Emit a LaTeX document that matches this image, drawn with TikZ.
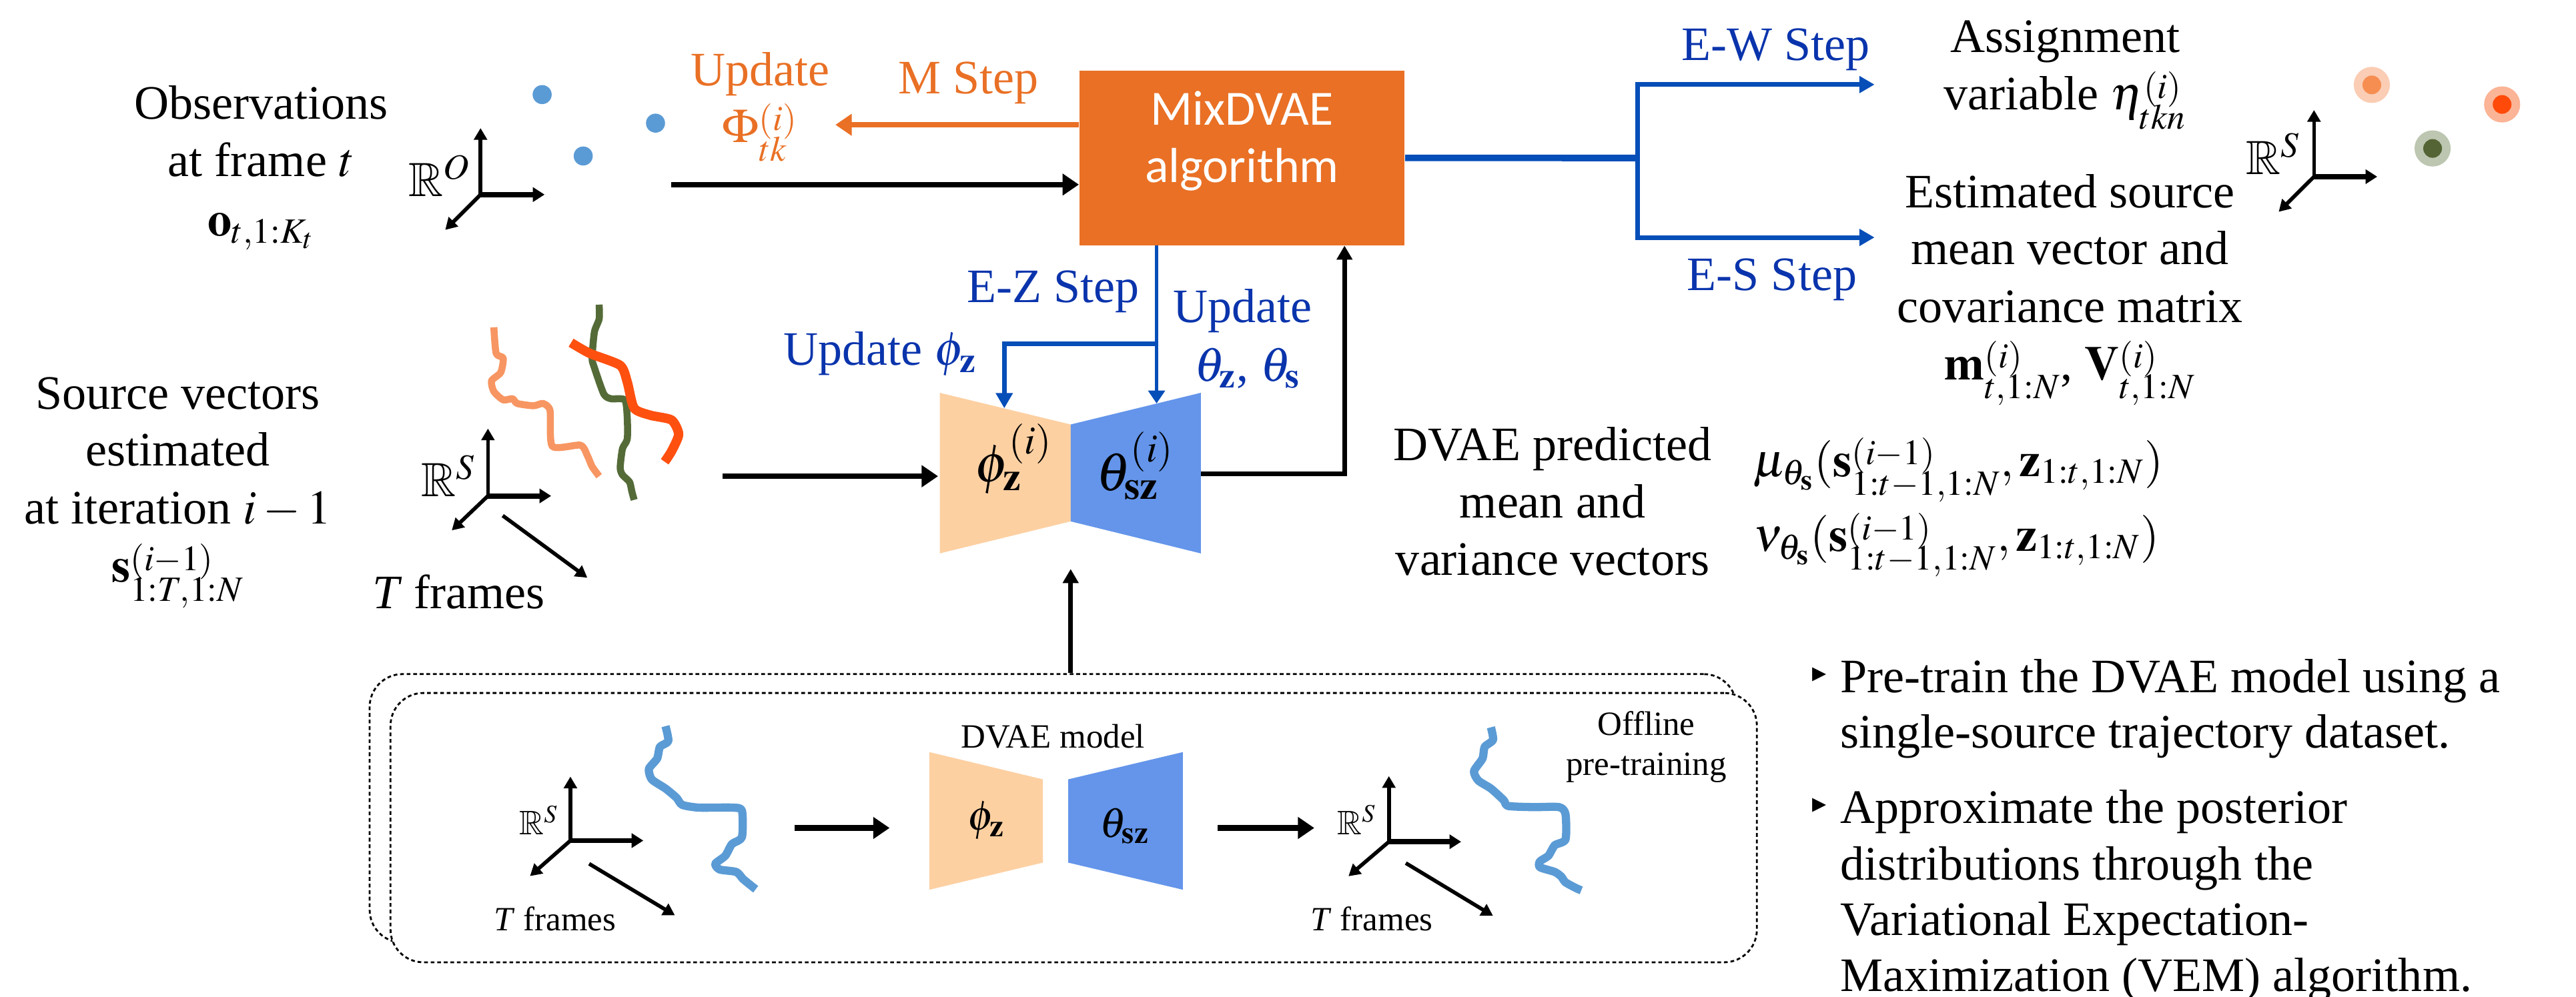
\documentclass[tikz,border=0pt]{standalone}
\usepackage{amssymb}
\usepackage{mathptmx}
\usepackage{fontspec}
\setmainfont{Liberation Serif}
\newfontfamily\boxfont{Carlito}
\newfontfamily\symfont{DejaVu Sans}
\usetikzlibrary{arrows.meta,fit}
\newcommand{\myscr}[2]{^{\raisebox{-2.5pt}[\dimexpr\height-2.5pt\relax][0pt]{$\scriptstyle #1$}}_{\raisebox{-3pt}{$\scriptstyle #2$}}}

\definecolor{mixorange}{RGB}{233,112,37}
\definecolor{stepblue}{RGB}{10,52,172}
\definecolor{lineblue}{RGB}{6,78,184}
\definecolor{dotblue}{RGB}{91,155,213}
\definecolor{encpeach}{RGB}{253,208,162}
\definecolor{decblue}{RGB}{100,149,234}
\definecolor{trajlight}{RGB}{247,150,98}
\definecolor{trajgreen}{RGB}{84,107,56}
\definecolor{trajred}{RGB}{255,80,16}
\definecolor{haloA}{RGB}{250,205,180}
\definecolor{coreA}{RGB}{246,142,82}
\definecolor{haloB}{RGB}{251,180,150}
\definecolor{coreB}{RGB}{255,74,10}
\definecolor{haloC}{RGB}{188,198,176}
\definecolor{coreC}{RGB}{84,100,52}

\begin{document}
\begin{tikzpicture}[x=0.024624cm,y=-0.024624cm,
  txt/.style={font=\fontsize{20.5}{24.5}\selectfont, inner sep=0pt, anchor=base},
  txtw/.style={txt, anchor=base west},
  small/.style={font=\fontsize{14.5}{17}\selectfont, inner sep=0pt, anchor=base},
  smallw/.style={small, anchor=base west},
  bigmath/.style={font=\fontsize{23}{27}\selectfont, inner sep=0pt, anchor=base},
  midmath/.style={font=\fontsize{18}{21}\selectfont, inner sep=0pt, anchor=base},
  blk/.style={line width=2.3pt, -{Triangle[length=7pt,width=9pt]}},
  blkthin/.style={line width=2pt, -{Triangle[length=6pt,width=6.5pt]}},
  axis/.style={line width=1.6pt, -{Triangle[length=5pt,width=5.5pt]}},
  axisH/.style={line width=2.2pt, -{Triangle[length=5pt,width=6pt]}},
  orarr/.style={mixorange, line width=2.1pt, -{Triangle[length=7pt,width=9pt]}},
  blarr/.style={lineblue, line width=2pt, -{Triangle[length=6.5pt,width=7pt]}},
  blarrthin/.style={lineblue, line width=1.6pt, -{Triangle[length=5.5pt,width=7pt]}},
  dashbox/.style={draw, line width=0.8pt, dash pattern=on 1.6pt off 1.2pt, rounded corners=14pt, inner sep=0pt},
  traj/.style={line width=#1, line join=round},
  pics/axes/.style n args={4}{code={
    \draw[axis] (0,0) -- (0,#1);
    \draw[axisH] (0,0) -- (#2,0);
    \draw[axis] (0,0) -- (#3,#4);
  }}
]
\useasboundingbox (0,0) rectangle (1568,607);

% ---------------- top-left: observations ----------------
\node[txt] (obs1) at (159,72.4) {Observations};
\node[txt] (obs2) at (159,107.6) {at frame $t$};
\node[txt] (obs3) at (159,143.5) {$\mathbf{o}_{t,1:K_t}$};
\pic at (292.5,118.5) {axes={-40.5}{39}{-21.5}{21.5}};
\node[txtw] (RO) at (248.6,119.8) {$\mathbb{R}^{O}$};
\fill[dotblue] (330,57.6) circle[radius=5.8];
\fill[dotblue] (399,75) circle[radius=5.8];
\fill[dotblue] (355,95) circle[radius=5.8];

% ---------------- MixDVAE box ----------------
\node[fit={(657,43) (855,149.3)}, inner sep=0pt, fill=mixorange, text=white,
      font=\boxfont\fontsize{21}{24.5}\selectfont, align=center] (mix) {MixDVAE\\algorithm};

\coordinate (obsA) at (408.6,112.4);
\draw[blk] (obsA) -- (obsA -| mix.west);

\coordinate (mTip) at (508.5,76);
\draw[orarr] (mTip -| mix.west) -- (mTip);
\node[txt, text=mixorange] (upd) at (462.7,52.1) {Update};
\node[txt, text=mixorange] (phiup) at (462.7,86.6) {$\Phi\myscr{(i)}{tk}$};
\node[txt, text=mixorange] (mstep) at (589.5,56.9) {M Step};

% ---------------- E-W / E-S ----------------
\coordinate (split) at (996.7,96.2);
\coordinate (ewTip) at (1141,51.5);
\coordinate (esTip) at (1141,144.6);
\draw[lineblue, line width=2.8pt] (mix.east) -- (split);
\draw[blarr] (split) |- (ewTip);
\draw[blarr] (split) |- (esTip);
\node[txt, text=stepblue] (ew) at (1081,36.8) {E-W Step};
\node[txt, text=stepblue] (es) at (1078.6,176.7) {E-S Step};

\node[txt] (as1) at (1257,31.8) {Assignment};
\node[txt] (as2) at (1257,67) {variable $\eta\myscr{(i)}{tkn}$};
\node[txt] (est1) at (1260,126.6) {Estimated source};
\node[txt] (est2) at (1260,161.1) {mean vector and};
\node[txt] (est3) at (1260,196.4) {covariance matrix};
\node[txt] (est4) at (1260,231.2) {$\mathbf{m}\myscr{(i)}{t,1:N}$, $\mathbf{V}\myscr{(i)}{t,1:N}$};

\pic at (1408.5,107.6) {axes={-40.6}{38.5}{-21.5}{21.4}};
\node[txtw] (RSr) at (1367,106.3) {$\mathbb{R}^{S}$};
\fill[haloA] (1443.7,51.7) circle[radius=11];
\fill[coreA] (1443.7,51.7) circle[radius=5.7];
\fill[haloB] (1523,63.6) circle[radius=11];
\fill[coreB] (1523,63.6) circle[radius=5.7];
\fill[haloC] (1480.7,90.4) circle[radius=11];
\fill[coreC] (1480.7,90.4) circle[radius=5.7];

% ---------------- middle row: source vectors ----------------
\node[txt] (src1) at (108.3,249.3) {Source vectors};
\node[txt] (src2) at (108.3,283.8) {estimated};
\node[txt] (src3) at (108.3,319) {at iteration $i-1$};
\node[txt] (src4) at (108.3,354.5) {$\mathbf{s}\myscr{(i-1)}{1:T,1:N}$};
\pic at (297,302) {axes={-41}{38.5}{-22}{21}};
\node[txtw] (RSm) at (256.3,302.3) {$\mathbb{R}^{S}$};
\coordinate (tA1) at (306,314);
\coordinate (tB1) at (357.5,351.8);
\draw[axis] (tA1) -- (tB1);
\node[txt] (tf1) at (279.2,370.4) {\textit{T} frames};

\draw[trajlight, traj=3pt] plot[smooth, tension=0.4] coordinates {(300.6,199.3) (302,215.2) (306.3,218.1) (304.8,226.8) (299.2,231.9) (300.6,238.4) (306.3,243.5) (312,242.8) (314.8,245.7) (324.8,247.1) (330.5,245.7) (334.8,250) (336.2,271.8) (353.3,271.1) (357.6,277.6) (360.4,284.1) (364.7,290)};
\draw[trajgreen, traj=3pt] plot[smooth, tension=0.4] coordinates {(364.7,185.5) (364.7,194.2) (361.8,202.2) (360.4,218.1) (361.8,223.9) (367.5,239.9) (371.8,242.8) (380.3,243.5) (381.8,254.4) (381.8,267.4) (378.9,273.2) (377.5,284.8) (378.9,289.2) (383.2,293.5) (384.6,299.3) (386,304.4)};
\draw[trajred, traj=4pt] plot[smooth, tension=0.4] coordinates {(347.6,208.7) (359,215.2) (377.5,222.5) (381.8,232.6) (386,248.6) (396,252.9) (408.8,255.8) (413.1,264.5) (408.8,274.7) (404.6,281.2)};

% encoder / decoder (online)
\fill[encpeach] (572,239.2) -- (651.7,258.5) -- (651.7,317.5) -- (572,337) -- cycle;
\fill[decblue] (651.7,258.5) -- (730.9,239.2) -- (730.9,337) -- (651.7,317.5) -- cycle;
\node[bigmath] (phiz) at (617,293.6) {$\phi^{(i)}_{\mathbf{z}}$};
\node[bigmath] (thsz) at (691,298.6) {$\theta^{(i)}_{\mathbf{sz}}$};

\coordinate (srcA) at (440,290);
\coordinate (encIn) at (571,290);
\draw[blk] (srcA) -- (encIn);

% E-Z step
\coordinate (decTop) at (704,245.7);
\coordinate (encTop) at (611.3,248.6);
\coordinate (ez) at (704,209.4);
\draw[blarrthin] (mix.south -| decTop) -- (decTop);
\draw[blarr] (ez) -| (encTop);
\node[txt, text=stepblue] (ezl) at (641.1,184) {E-Z Step};
\node[txt, text=stepblue] (updphi) at (535.7,222.5) {Update $\phi_{\mathbf{z}}$};
\node[txt, text=stepblue] (updth1) at (756.5,196.4) {Update};
\node[txt, text=stepblue] (updth2) at (759.4,231.9) {$\theta_{\mathbf{z}}$, $\theta_{\mathbf{s}}$};

% decoder output to box
\coordinate (decOut) at (731,288.4);
\coordinate (upX) at (818.4,0);
\draw[blkthin] (decOut) -| (mix.south -| upX);

\node[txt] (dp1) at (945,280.5) {DVAE predicted};
\node[txt] (dp2) at (945,315.3) {mean and};
\node[txt] (dp3) at (945,350.1) {variance vectors};
\node[txtw] (mu) at (1067,290) {$\mu_{\theta_{\mathbf{s}}}(\mathbf{s}\myscr{(i-1)}{1:t-1,1:N}, \mathbf{z}_{1:t,1:N})$};
\node[txtw] (nu) at (1067,335.6) {$\nu_{\theta_{\mathbf{s}}}(\mathbf{s}\myscr{(i-1)}{1:t-1,1:N}, \mathbf{z}_{1:t,1:N})$};

% ---------------- offline pre-training box ----------------
\node[dashbox, fit={(225,410.5) (1057,574)}] (outer) {};
\node[dashbox, fill=white, fit={(237.7,422) (1069.4,586)}] (inner) {};
\coordinate (junc) at (651.7,346.5);
\draw[blkthin] (outer.north -| junc) -- (junc);

\pic at (347.2,511.9) {axes={-39}{44.4}{-24.6}{21.6}};
\node[smallw] (RSo1) at (315.9,508.4) {$\mathbb{R}^{S}$};
\coordinate (tA2) at (358.6,526);
\coordinate (tB2) at (410.8,557.4);
\draw[axis] (tA2) -- (tB2);
\node[small] (tf2) at (337.8,566.9) {\textit{T} frames};
\draw[dotblue, traj=3.5pt] plot[smooth, tension=0.4] coordinates {(405.1,442.2) (406.8,451.3) (401.7,454.8) (400.0,461.9) (395.0,468.2) (396.7,474.6) (405.1,480.2) (411.8,485.8) (415.2,490.1) (425.3,491.8) (445.5,491.8) (451.6,493.6) (451.6,509.8) (445.5,514.0) (441.5,521.1) (435.4,526.0) (438.1,529.5) (448.2,531.0) (452.2,535.2) (457.3,539.4) (460.0,541.5)};

\coordinate (oA1) at (483.5,504.2);
\coordinate (oB1) at (541.5,504.2);
\draw[blk] (oA1) -- (oB1);

\fill[encpeach] (565.7,458) -- (634.8,474.6) -- (634.8,525.3) -- (565.7,541.8) -- cycle;
\fill[decblue] (650.2,474.6) -- (720,458) -- (720,541.8) -- (650.2,525.3) -- cycle;
\node[small] (dvm) at (641,455.6) {DVAE model};
\node[midmath] (phizs) at (600.4,505.6) {$\phi_{\mathbf{z}}$};
\node[midmath] (thszs) at (684.6,509.8) {$\theta_{\mathbf{sz}}$};

\coordinate (oA2) at (741.3,504.2);
\coordinate (oB2) at (800,504.2);
\draw[blk] (oA2) -- (oB2);

\pic at (845.4,512.6) {axes={-40}{44}{-24.6}{21}};
\node[smallw] (RSo2) at (813.8,508.1) {$\mathbb{R}^{S}$};
\coordinate (tA3) at (855.7,525.6);
\coordinate (tB3) at (908.8,557.7);
\draw[axis] (tA3) -- (tB3);
\node[small] (tf3) at (835,566.9) {\textit{T} frames};
\draw[dotblue, traj=3.5pt] plot[smooth, tension=0.4] coordinates {(907.5,442.9) (908.8,450.6) (903.7,454.8) (902.4,461.9) (897.2,469.6) (899.8,475.3) (907.5,480.2) (915.3,487.3) (917.9,490.8) (933.4,491.5) (949.0,491.5) (952.9,495.7) (952.9,511.2) (946.4,514.7) (942.5,521.1) (937.3,524.6) (937.3,528.1) (946.4,531.0) (950.3,533.8) (952.9,537.3) (959.3,540.8) (962.5,542.2)};

\node[small] (off1) at (1002,447.8) {Offline};
\node[small] (off2) at (1002,472) {pre-training};

% ---------------- bullet list ----------------
\node[inner sep=0pt, font=\symfont\fontsize{12}{12}\selectfont] (bul1) at (1107.6,411) {▸};
\node[inner sep=0pt, font=\symfont\fontsize{12}{12}\selectfont] (bul2) at (1107.6,490.6) {▸};
\node[txtw] (l1) at (1120,421.7) {Pre-train the DVAE model using a};
\node[txtw] (l2) at (1120,455.6) {single-source trajectory dataset.};
\node[txtw] (l3) at (1120,501.3) {Approximate the posterior};
\node[txtw] (l4) at (1120,535.9) {distributions through the};
\node[txtw] (l5) at (1120,569.7) {Variational Expectation-};
\node[txtw] (l6) at (1120,603.5) {Maximization (VEM) algorithm.};
\end{tikzpicture}
\end{document}
